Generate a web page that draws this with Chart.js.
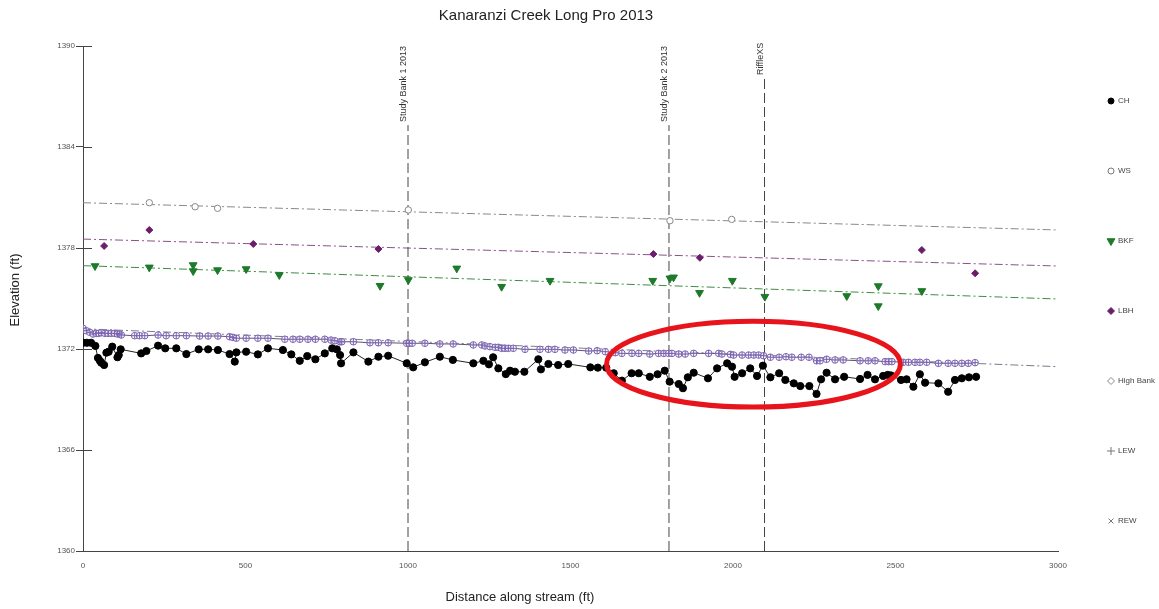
<!DOCTYPE html>
<html>
<head>
<meta charset="utf-8">
<title>Kanaranzi Creek Long Pro 2013</title>
<script src="https://cdn.jsdelivr.net/npm/chart.js"></script>
<style>
    body { margin: 0; background: #fff; }
    #grafico { display: block; }
</style>
</head>
<body>
<canvas id="grafico" width="1159" height="609"></canvas>
<script>
const chDist = [0,12,25,38,46,52,56,65,72,79,90,106,110,116,179,195,231,253,287,318,356,385,415,451,467,472,502,538,569,615,641,667,690,715,744,767,781,791,794,832,878,909,939,996,1016,1052,1098,1138,1201,1232,1249,1262,1278,1301,1314,1329,1358,1401,1409,1432,1462,1493,1561,1584,1610,1633,1658,1688,1710,1744,1768,1790,1805,1833,1846,1861,1879,1923,1951,1982,1997,2005,2028,2053,2074,2092,2115,2142,2161,2187,2207,2235,2257,2271,2288,2314,2342,2391,2414,2437,2462,2476,2486,2517,2534,2555,2575,2591,2632,2662,2683,2704,2726,2748];
const chElev = [1372.37,1372.37,1372.37,1372.18,1371.47,1371.30,1371.19,1371.05,1371.78,1371.84,1372.14,1371.51,1371.64,1371.98,1371.74,1371.88,1372.20,1372.04,1372.04,1371.70,1371.98,1371.98,1371.94,1371.70,1371.25,1371.80,1371.84,1371.68,1372.04,1371.94,1371.68,1371.30,1371.58,1371.39,1371.74,1372.04,1371.98,1371.64,1371.15,1371.80,1371.25,1371.54,1371.60,1371.15,1370.91,1371.21,1371.54,1371.35,1371.15,1371.30,1371.09,1371.51,1370.85,1370.51,1370.71,1370.65,1370.65,1371.39,1370.79,1371.11,1371.05,1371.11,1370.91,1370.89,1370.89,1370.56,1370.12,1370.56,1370.56,1370.35,1370.50,1370.71,1370.06,1369.92,1369.67,1370.32,1370.59,1370.26,1370.85,1371.15,1370.95,1370.35,1370.56,1370.85,1370.40,1371.01,1370.32,1370.56,1370.16,1369.96,1369.80,1369.80,1369.33,1370.20,1370.59,1370.20,1370.35,1370.22,1370.46,1370.20,1370.40,1370.46,1370.43,1370.16,1370.20,1369.76,1370.50,1370.00,1369.96,1369.46,1370.16,1370.26,1370.32,1370.35];

const hbDist = [0,10,21,31,41,48,56,67,77,87,97,106,113,118,159,174,190,231,256,287,318,359,385,415,451,461,472,502,538,569,621,646,667,692,715,744,763,775,791,796,832,883,909,939,996,1003,1013,1052,1098,1139,1201,1227,1237,1252,1268,1278,1288,1298,1309,1324,1360,1406,1432,1452,1483,1509,1556,1582,1607,1638,1658,1689,1710,1744,1771,1787,1802,1812,1833,1853,1879,1925,1956,1966,1992,2002,2028,2048,2064,2079,2094,2115,2142,2163,2181,2210,2234,2257,2268,2288,2314,2339,2391,2416,2437,2468,2479,2489,2524,2540,2560,2575,2596,2632,2662,2683,2704,2724,2745];
const hbElev = [1373.23,1373.09,1372.99,1372.89,1372.93,1372.93,1372.97,1372.93,1372.93,1372.93,1372.93,1372.89,1372.89,1372.83,1372.79,1372.79,1372.79,1372.83,1372.79,1372.79,1372.79,1372.77,1372.77,1372.77,1372.73,1372.69,1372.64,1372.64,1372.64,1372.64,1372.58,1372.58,1372.58,1372.58,1372.58,1372.58,1372.53,1372.49,1372.43,1372.43,1372.43,1372.37,1372.37,1372.37,1372.34,1372.34,1372.34,1372.34,1372.30,1372.30,1372.24,1372.24,1372.18,1372.14,1372.10,1372.10,1372.04,1372.04,1372.04,1372.04,1371.98,1371.98,1371.98,1371.98,1371.94,1371.94,1371.88,1371.90,1371.84,1371.78,1371.74,1371.74,1371.74,1371.70,1371.74,1371.74,1371.74,1371.74,1371.70,1371.70,1371.74,1371.74,1371.74,1371.70,1371.68,1371.64,1371.64,1371.64,1371.64,1371.64,1371.60,1371.51,1371.51,1371.54,1371.51,1371.51,1371.51,1371.30,1371.30,1371.39,1371.35,1371.35,1371.30,1371.30,1371.30,1371.25,1371.25,1371.25,1371.21,1371.21,1371.21,1371.21,1371.21,1371.15,1371.15,1371.15,1371.15,1371.15,1371.19];

const wsDist = [204,345,414,1001,1806,1996];
const wsElev = [1380.69,1380.45,1380.36,1380.26,1379.62,1379.70];

const lbhDist = [65,204,524,909,1755,1898,2581,2745];
const lbhElev = [1378.12,1379.07,1378.24,1377.94,1377.64,1377.42,1377.88,1376.50];

const bkfDist = [37,204,339,339,414,502,604,914,1001,1150,1288,1437,1753,1806,1817,1897,1998,2098,2350,2447,2447,2581];
const bkfElev = [1376.93,1376.85,1376.99,1376.63,1376.69,1376.75,1376.40,1375.76,1376.10,1376.79,1375.70,1376.06,1376.06,1376.20,1376.26,1375.34,1376.06,1375.11,1375.15,1375.74,1374.55,1375.45];

// linhas de tendencia (inicio e fim)
const trendDist = [0, 3000];
const wsTrend = [1380.69, 1379.07];
const lbhTrend = [1378.53, 1376.93];
const bkfTrend = [1376.95, 1374.97];
const hbTrend = [1373.20, 1370.95];

// linhas verticais de referencia
const refDist = [1000, 1803, 2097];
const refTop = [1385.3, 1385.3, 1388.1];
const refLabels = ['Study Bank 1 2013', 'Study Bank 2 2013', 'RiffleXS'];

// destaque em vermelho
const ellipseCentre = [2063, 1371.1];
const ellipseRadius = [452, 2.55];

const xTicks = [0, 500, 1000, 1500, 2000, 2500, 3000];
const yTicks = [1360, 1366, 1372, 1378, 1384, 1390];

const legendLabels = ['CH', 'WS', 'BKF', 'LBH', 'High Bank', 'LEW', 'REW'];

function pontos(xs, ys) {
    return xs.map((x, i) => ({ x: x, y: ys[i] }));
}

Chart.defaults.font.family = '"Liberation Sans", Arial, sans-serif';

const dashDot = [8, 3, 2, 3];

function linhaTendencia(valores, cor) {
    return {
        label: 'trend',
        data: pontos(trendDist, valores),
        showLine: true,
        borderColor: cor,
        borderWidth: 1,
        borderDash: dashDot,
        pointRadius: 0
    };
}

function linhaReferencia(i) {
    return {
        label: refLabels[i],
        data: [{ x: refDist[i], y: 1360 }, { x: refDist[i], y: refTop[i] }],
        showLine: true,
        borderColor: '#444',
        borderWidth: 1,
        borderDash: [10, 4],
        pointRadius: 0
    };
}

const legendStyles = [
    { pointStyle: 'circle', radius: 3, fill: '#000', stroke: '#000' },
    { pointStyle: 'circle', radius: 3, fill: '#fff', stroke: '#777' },
    { pointStyle: 'triangle', radius: 4.5, rotation: 180, fill: '#1d7a2a', stroke: '#1d7a2a' },
    { pointStyle: 'rectRot', radius: 3.5, fill: '#6b1d6b', stroke: '#6b1d6b' },
    { pointStyle: 'rectRot', radius: 3.5, fill: '#fff', stroke: '#888' },
    { pointStyle: 'cross', radius: 4, fill: '#777', stroke: '#777' },
    { pointStyle: 'crossRot', radius: 3.5, fill: '#777', stroke: '#777' }
];

const extras = {
    id: 'extras',
    afterDatasetsDraw(chart) {
        const ctx = chart.ctx;
        const x = chart.scales.x;
        const y = chart.scales.y;
        ctx.save();
        const cx = x.getPixelForValue(ellipseCentre[0]);
        const cy = y.getPixelForValue(ellipseCentre[1]);
        const rx = x.getPixelForValue(ellipseCentre[0] + ellipseRadius[0]) - cx;
        const ry = cy - y.getPixelForValue(ellipseCentre[1] + ellipseRadius[1]);
        ctx.beginPath();
        ctx.ellipse(cx, cy, rx, ry, 0, 0, Math.PI * 2);
        ctx.strokeStyle = '#e8141c';
        ctx.lineWidth = 5;
        ctx.stroke();
        ctx.restore();
    },
    afterDraw(chart) {
        const ctx = chart.ctx;
        const x = chart.scales.x;
        const y = chart.scales.y;
        const area = chart.chartArea;
        ctx.save();

        // marcas dos ticks do eixo Y para dentro
        ctx.strokeStyle = '#444';
        ctx.lineWidth = 1;
        yTicks.forEach(v => {
            const py = Math.round(y.getPixelForValue(v)) + 0.5;
            ctx.beginPath();
            ctx.moveTo(area.left, py);
            ctx.lineTo(area.left + 9, py);
            ctx.stroke();
        });

        // rotulos das linhas verticais
        ctx.fillStyle = '#333';
        ctx.font = '9px "Liberation Sans", Arial, sans-serif';
        ctx.textAlign = 'left';
        ctx.textBaseline = 'alphabetic';
        refDist.forEach((d, i) => {
            const px = x.getPixelForValue(d);
            const py = y.getPixelForValue(refTop[i]) - 3;
            ctx.save();
            ctx.translate(px - 2, py);
            ctx.rotate(-Math.PI / 2);
            ctx.fillText(refLabels[i], 0, 0);
            ctx.restore();
        });

        // titulos
        ctx.fillStyle = '#222';
        ctx.textAlign = 'center';
        ctx.textBaseline = 'middle';
        ctx.font = '15px "Liberation Sans", Arial, sans-serif';
        ctx.fillText('Kanaranzi Creek Long Pro 2013', 546, 16);
        ctx.font = '13px "Liberation Sans", Arial, sans-serif';
        ctx.fillText('Distance along stream (ft)', 520, 597);
        ctx.save();
        ctx.translate(15, 290);
        ctx.rotate(-Math.PI / 2);
        ctx.fillText('Elevation (ft)', 0, 0);
        ctx.restore();

        // legenda
        ctx.font = '8px "Liberation Sans", Arial, sans-serif';
        ctx.textAlign = 'left';
        legendLabels.forEach((nome, i) => {
            const ly = 101 + i * 70;
            const st = legendStyles[i];
            ctx.fillStyle = st.fill;
            ctx.strokeStyle = st.stroke;
            ctx.lineWidth = 1;
            Chart.helpers.drawPoint(ctx, {
                pointStyle: st.pointStyle,
                radius: st.radius,
                rotation: st.rotation || 0,
                borderWidth: 1
            }, 1111, ly);
            ctx.fillStyle = '#444';
            ctx.fillText(nome, 1118, ly);
        });

        ctx.restore();
    }
};

const ctx = document.getElementById('grafico').getContext('2d');

window.meuGrafico = new Chart(ctx, {
    type: 'scatter',
    data: {
        datasets: [
            {
                label: 'BKF',
                data: pontos(bkfDist, bkfElev),
                pointStyle: 'triangle',
                rotation: 180,
                pointRadius: 4.5,
                backgroundColor: '#1d7a2a',
                borderColor: '#1d7a2a',
                borderWidth: 1
            },
            {
                label: 'LBH',
                data: pontos(lbhDist, lbhElev),
                pointStyle: 'rectRot',
                pointRadius: 3.5,
                backgroundColor: '#6b1d6b',
                borderColor: '#6b1d6b',
                borderWidth: 1
            },
            {
                label: 'WS',
                data: pontos(wsDist, wsElev),
                pointStyle: 'circle',
                pointRadius: 3.2,
                backgroundColor: '#fff',
                borderColor: '#888',
                borderWidth: 1
            },
            {
                label: 'CH',
                data: pontos(chDist, chElev),
                showLine: true,
                borderColor: '#222',
                borderWidth: 1,
                pointStyle: 'circle',
                pointRadius: 3.6,
                pointBackgroundColor: '#000',
                pointBorderColor: '#000'
            },
            {
                label: 'LEW',
                data: pontos(hbDist, hbElev),
                pointStyle: 'cross',
                pointRadius: 3.3,
                borderColor: '#7a62b0',
                borderWidth: 1
            },
            {
                label: 'High Bank',
                data: pontos(hbDist, hbElev),
                showLine: true,
                borderColor: '#5d5275',
                borderWidth: 1,
                pointStyle: 'circle',
                pointRadius: 3.3,
                pointBackgroundColor: 'rgba(255,255,255,0.6)',
                pointBorderColor: '#7a62b0',
                pointBorderWidth: 1
            },
            linhaReferencia(0),
            linhaReferencia(1),
            linhaReferencia(2),
            linhaTendencia(wsTrend, '#888'),
            linhaTendencia(lbhTrend, '#8a4f8a'),
            linhaTendencia(bkfTrend, '#3f8a3f'),
            linhaTendencia(hbTrend, '#7a7a8a')
        ]
    },
    options: {
        responsive: false,
        animation: false,
        layout: {
            padding: { top: 46, right: 101, left: 0, bottom: 0 }
        },
        plugins: {
            legend: { display: false },
            tooltip: { enabled: false },
            title: { display: false }
        },
        scales: {
            x: {
                type: 'linear',
                min: 0,
                max: 3000,
                afterBuildTicks: s => { s.ticks = xTicks.map(v => ({ value: v })); },
                afterFit: s => { s.height = 58; },
                ticks: {
                    color: '#555',
                    font: { size: 8 },
                    padding: 4,
                    maxRotation: 0,
                    callback: v => String(v)
                },
                grid: {
                    drawOnChartArea: false,
                    tickLength: 6,
                    tickColor: 'transparent'
                },
                border: { color: '#444' }
            },
            y: {
                type: 'linear',
                min: 1360,
                max: 1390,
                afterBuildTicks: s => { s.ticks = yTicks.map(v => ({ value: v })); },
                afterFit: s => { s.width = 83; },
                ticks: {
                    color: '#555',
                    font: { size: 8 },
                    padding: 1,
                    callback: v => String(v)
                },
                grid: {
                    drawOnChartArea: false,
                    tickLength: 7,
                    tickColor: '#444'
                },
                border: { color: '#444' }
            }
        }
    },
    plugins: [extras]
});
</script>
</body>
</html>
